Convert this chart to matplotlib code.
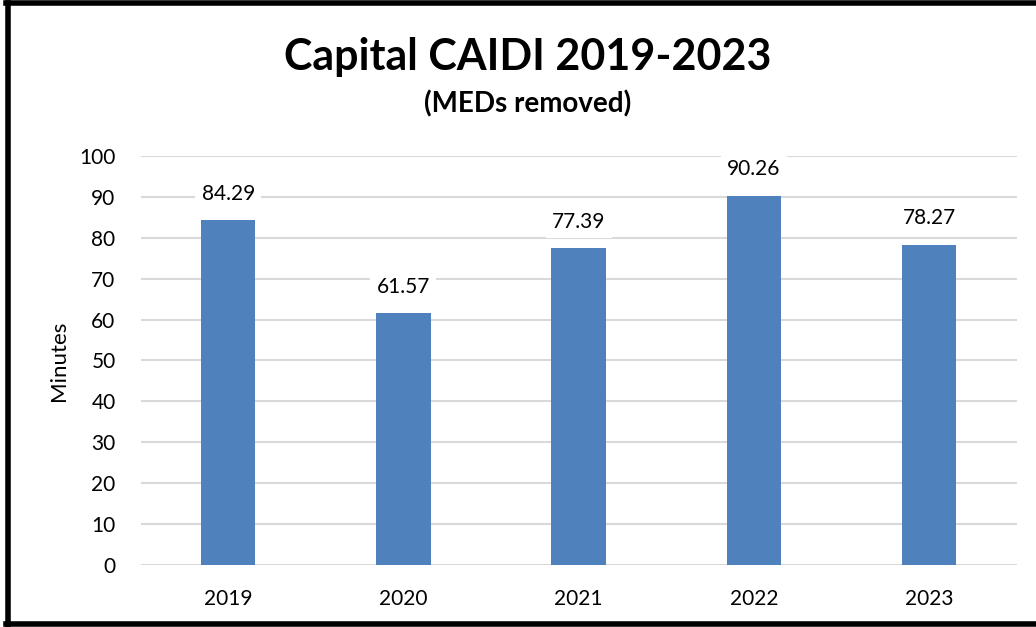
import matplotlib.pyplot as plt
from matplotlib.lines import Line2D

plt.rcParams['font.family'] = ['Lato', 'DejaVu Sans']

# CAIDI by year, minutes (major event days removed)
years = ['2019', '2020', '2021', '2022', '2023']
caidi = [84.29, 61.57, 77.39, 90.26, 78.27]

fig = plt.figure(figsize=(10.36, 6.27), dpi=100)
ax = fig.add_axes([0.1357, 0.0989, 0.8456, 0.6523])

x = range(len(years))
bars = ax.bar(x, caidi, width=0.31, color='#4F81BD', zorder=3)

for xi, v in zip(x, caidi):
    ax.annotate(f'{v:.2f}', (xi, v), xytext=(0, 19), textcoords='offset points',
                ha='center', va='center', fontsize=15,
                bbox=dict(boxstyle='square,pad=0.3', fc='white', ec='none'), zorder=4)

ax.set_xlim(-0.5, len(years) - 0.5)
ax.set_ylim(0, 100)
ax.set_yticks(range(0, 101, 10))
ax.set_xticks(list(x))
ax.set_xticklabels(years)
ax.tick_params(length=0, labelsize=15)
ax.tick_params(axis='x', pad=17)
ax.tick_params(axis='y', pad=18)
ax.grid(axis='y', color='#D9D9D9', linewidth=1.5, zorder=0)
for s in ax.spines.values():
    s.set_visible(False)
ax.set_ylabel('Minutes', fontsize=16, labelpad=7)

fig.text(0.509, 0.909, 'Capital CAIDI 2019-2023', ha='center', va='center',
         fontsize=31, fontweight='bold')
fig.text(0.509, 0.834, '(MEDs removed)', ha='center', va='center',
         fontsize=20, fontweight='bold')

# black frame on top, left and bottom
fig.add_artist(Line2D([0.008, 0.008], [0.003, 0.995], transform=fig.transFigure, color='black', lw=4))
fig.add_artist(Line2D([0.006, 1.0], [0.995, 0.995], transform=fig.transFigure, color='black', lw=4))
fig.add_artist(Line2D([0.006, 1.0], [0.004, 0.004], transform=fig.transFigure, color='black', lw=4))

fig.savefig('out.png', dpi=100)
